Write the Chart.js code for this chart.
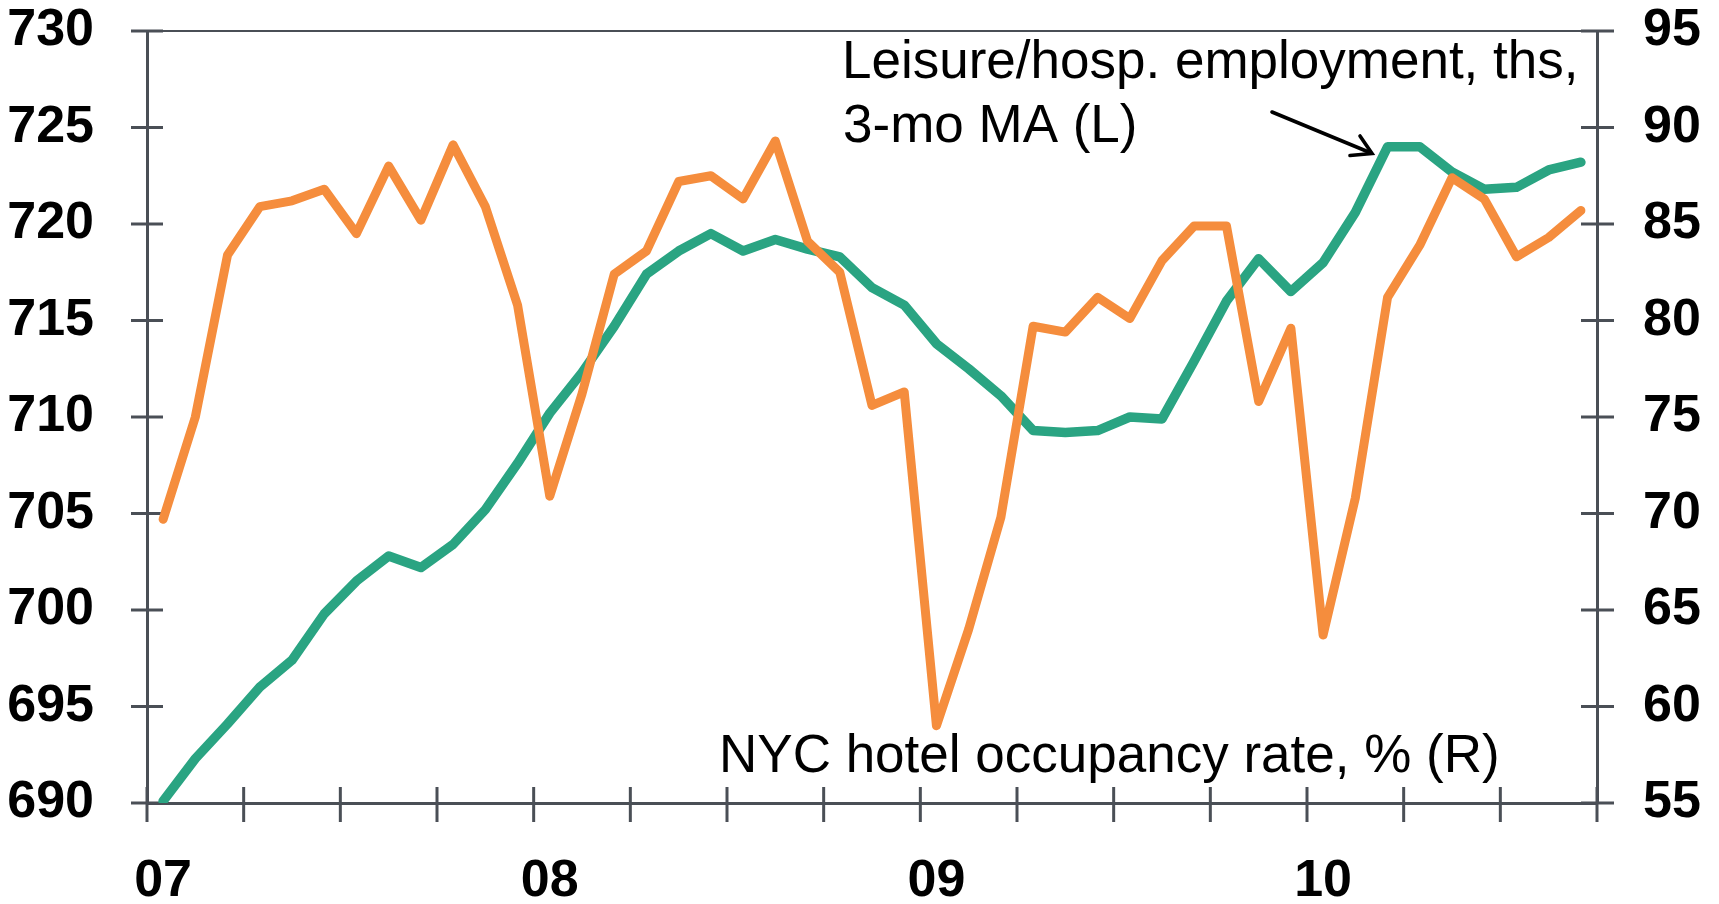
<!DOCTYPE html>
<html><head><meta charset="utf-8">
<script src="https://cdn.jsdelivr.net/npm/chart.js@4.4.1/dist/chart.umd.min.js"></script>
<style>html,body{margin:0;padding:0;background:#fff}#wrap{width:1719px;height:904px;position:relative}</style>
</head><body><div id="wrap"><canvas id="c"></canvas></div>
<script>
const months = ['Jan 07','Feb 07','Mar 07','Apr 07','May 07','Jun 07','Jul 07','Aug 07','Sep 07','Oct 07','Nov 07','Dec 07',
  'Jan 08','Feb 08','Mar 08','Apr 08','May 08','Jun 08','Jul 08','Aug 08','Sep 08','Oct 08','Nov 08','Dec 08',
  'Jan 09','Feb 09','Mar 09','Apr 09','May 09','Jun 09','Jul 09','Aug 09','Sep 09','Oct 09','Nov 09','Dec 09',
  'Jan 10','Feb 10','Mar 10','Apr 10','May 10','Jun 10','Jul 10','Aug 10','Sep 10'];
// Leisure/hospitality employment, ths, 3-mo MA (left axis)
const employment = [690.1,692.3,694.1,696.0,697.4,699.8,701.5,702.8,702.2,703.4,705.2,707.6,
  710.2,712.3,714.7,717.4,718.6,719.5,718.6,719.2,718.7,718.3,716.7,715.8,
  713.8,712.5,711.1,709.3,709.2,709.3,710.0,709.9,712.9,716.0,718.2,716.5,
  718.0,720.6,724.0,724.0,722.7,721.8,721.9,722.8,723.2];
// NYC hotel occupancy rate, % (right axis)
const occupancy = [69.7,75.0,83.4,85.9,86.2,86.8,84.5,88.0,85.2,89.1,85.9,80.8,
  70.9,76.2,82.4,83.6,87.2,87.5,86.3,89.3,84.1,82.5,75.6,76.3,
  59.0,64.0,69.8,79.7,79.4,81.2,80.1,83.1,84.9,84.9,75.8,79.6,
  63.7,70.8,81.2,83.9,87.4,86.3,83.3,84.3,85.7];
const leftRange = [690, 730];
const rightRange = [55, 95];
const tickStep = 5;
const labelEmployment = ['Leisure/hosp. employment, ths,', '3-mo MA (L)'];
const labelOccupancy = 'NYC hotel occupancy rate, % (R)';

const AX = '#4a4f56';
const GREEN = '#2aa482';
const ORANGE = '#f58d3d';
const FONT = '"Liberation Sans", Arial, sans-serif';

const frame = {
  id: 'frame',
  beforeDatasetsDraw(chart) {
    const {ctx, chartArea: a, scales: {x, y, y1}} = chart;
    ctx.save();
    ctx.strokeStyle = AX;
    ctx.lineCap = 'butt';
    const seg = (x0, y0, x1, y2, w) => { ctx.lineWidth = w; ctx.beginPath(); ctx.moveTo(x0, y0); ctx.lineTo(x1, y2); ctx.stroke(); };
    seg(a.left - 1.5, a.top, a.right + 1.5, a.top, 2.2);
    y.ticks.forEach(t => { const p = y.getPixelForValue(t.value); seg(a.left - 16, p, a.left + 16, p, 3); });
    y1.ticks.forEach(t => { const p = y1.getPixelForValue(t.value); seg(a.right - 16, p, a.right + 17, p, 3); });
    const step = x.getPixelForValue(1) - x.getPixelForValue(0);
    for (let i = 0; i <= months.length; i += 3) {
      const p = x.getPixelForValue(0) - step / 2 + i * step;
      seg(p, a.bottom - 16, p, a.bottom + 19, 3);
    }
    ctx.restore();
  },
  afterDraw(chart) {
    const {ctx} = chart;
    ctx.save();
    ctx.fillStyle = '#000';
    ctx.font = '53px ' + FONT;
    ctx.textBaseline = 'alphabetic';
    ctx.textAlign = 'left';
    ctx.fillText(labelEmployment[0], 842, 78);
    ctx.fillText(labelEmployment[1], 843, 142);
    ctx.fillText(labelOccupancy, 719, 772);
    ctx.strokeStyle = '#000';
    ctx.lineWidth = 3.6;
    ctx.lineCap = 'round';
    ctx.lineJoin = 'miter';
    ctx.beginPath(); ctx.moveTo(1272, 112); ctx.lineTo(1371, 153); ctx.stroke();
    ctx.beginPath(); ctx.moveTo(1360, 136); ctx.lineTo(1372, 153.5); ctx.lineTo(1350, 155.5); ctx.stroke();
    ctx.restore();
  }
};

const noPad = s => { s.paddingTop = 0; s.paddingBottom = 0; };

new Chart(document.getElementById('c'), {
  type: 'line',
  data: {
    labels: months,
    datasets: [
      {label: labelEmployment.join(' '), data: employment, yAxisID: 'y', borderColor: GREEN, borderWidth: 9.5,
       pointRadius: 0, tension: 0, borderCapStyle: 'round', borderJoinStyle: 'round', order: 2},
      {label: labelOccupancy, data: occupancy, yAxisID: 'y1', borderColor: ORANGE, borderWidth: 9,
       pointRadius: 0, tension: 0, borderCapStyle: 'round', borderJoinStyle: 'round', order: 1}
    ]
  },
  options: {
    responsive: true,
    maintainAspectRatio: false,
    animation: false,
    layout: {padding: {top: 31, left: 0, right: 0, bottom: 0}},
    plugins: {legend: {display: false}, tooltip: {enabled: false}},
    scales: {
      x: {
        type: 'category', offset: true,
        grid: {display: false, offset: true},
        border: {display: true, color: AX, width: 3},
        ticks: {autoSkip: false, maxRotation: 0, minRotation: 0, padding: 39, color: '#000',
          font: {family: FONT, size: 52, weight: 'bold'},
          callback: (v, i) => months[i].startsWith('Jan') ? months[i].slice(4) : ''},
        afterFit: s => { s.height = 101; s.paddingLeft = 0; s.paddingRight = 0; }
      },
      y: {
        position: 'left', min: leftRange[0], max: leftRange[1],
        grid: {display: false},
        border: {display: true, color: AX, width: 3},
        ticks: {stepSize: tickStep, padding: 45, color: '#000', font: {family: FONT, size: 52, weight: 'bold'}},
        afterFit: s => { s.width = 147; noPad(s); }
      },
      y1: {
        position: 'right', min: rightRange[0], max: rightRange[1],
        grid: {display: false},
        border: {display: true, color: AX, width: 3},
        ticks: {stepSize: tickStep, padding: 38, color: '#000', font: {family: FONT, size: 52, weight: 'bold'}},
        afterFit: s => { s.width = 122; noPad(s); }
      }
    }
  },
  plugins: [frame]
});
</script></body></html>
